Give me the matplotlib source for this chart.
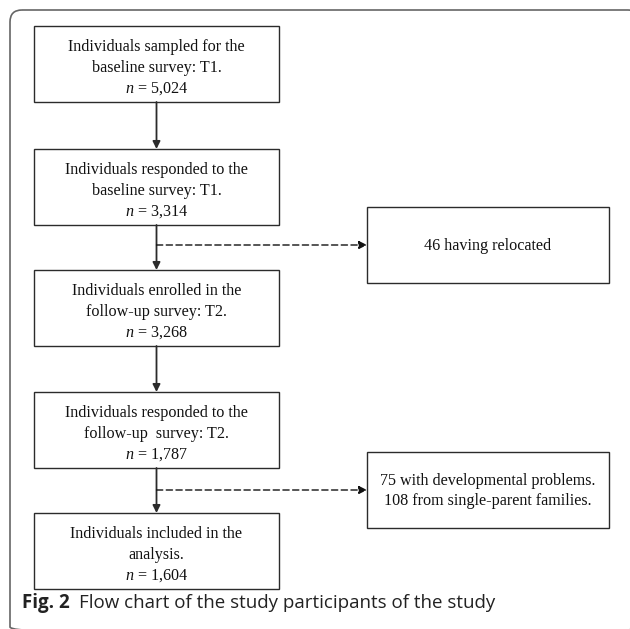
import matplotlib
matplotlib.use("Agg")
import matplotlib.pyplot as plt
from matplotlib.patches import Rectangle, FancyBboxPatch

plt.rcParams["mathtext.fontset"] = "custom"
plt.rcParams["mathtext.rm"] = "Liberation Serif"
plt.rcParams["mathtext.it"] = "Liberation Serif:italic"

# Flow chart content
main_labels = [
    "Individuals sampled for the\nbaseline survey: T1.",
    "Individuals responded to the\nbaseline survey: T1.",
    "Individuals enrolled in the\nfollow-up survey: T2.",
    "Individuals responded to the\nfollow-up  survey: T2.",
    "Individuals included in the\nanalysis.",
]
main_counts = ["5,024", "3,314", "3,268", "1,787", "1,604"]
side_labels = [
    "46 having relocated",
    "75 with developmental problems.\n108 from single-parent families.",
]
side_after = [1, 3]  # the exclusion branches off below these main boxes
caption_bold = "Fig. 2"
caption_text = "Flow chart of the study participants of the study"

# Layout (pixels)
W, H = 630, 629
main_x0, main_x1 = 34, 279
main_tops = [26, 149, 270, 392, 513]
box_h = 76
side_x0, side_x1 = 367, 609
side_tops = [207, 452]
side_h = 76
edge = "#2b2b2b"
serif = ["Liberation Serif", "DejaVu Serif"]
fs = 11.6

fig = plt.figure(figsize=(W / 100, H / 100), dpi=100)
ax = fig.add_axes([0, 0, 1, 1])
ax.set_xlim(0, W)
ax.set_ylim(H, 0)
ax.axis("off")

# outer rounded frame (right and bottom edges fall just outside the picture)
frame = FancyBboxPatch((10, 10), 630, 629, boxstyle="round,pad=0,rounding_size=12",
                       fill=False, edgecolor="#666666", linewidth=1.2)
ax.add_patch(frame)

cx = (main_x0 + main_x1) / 2

# main boxes
for top, label, count in zip(main_tops, main_labels, main_counts):
    ax.add_patch(Rectangle((main_x0, top), main_x1 - main_x0, box_h,
                           fill=False, edgecolor=edge, linewidth=1.0))
    ax.text(cx, top + box_h / 2 + 4, label + "\n$n$ = " + count,
            ha="center", va="center", fontsize=fs, family=serif,
            linespacing=1.42, color="#111111")

# solid arrows between main boxes
for i in range(len(main_tops) - 1):
    ax.annotate("", xy=(cx, main_tops[i + 1]), xytext=(cx, main_tops[i] + box_h),
                arrowprops=dict(arrowstyle="-|>", color=edge, lw=1.3,
                                mutation_scale=11, shrinkA=0, shrinkB=0))

# side boxes with dashed arrows
for top, label, i in zip(side_tops, side_labels, side_after):
    ax.add_patch(Rectangle((side_x0, top), side_x1 - side_x0, side_h,
                           fill=False, edgecolor=edge, linewidth=1.0))
    ymid = top + side_h / 2
    ax.text((side_x0 + side_x1) / 2, ymid + 1, label, ha="center", va="center",
            fontsize=fs, family=serif, linespacing=1.4, color="#111111")
    ax.annotate("", xy=(side_x0, ymid), xytext=(cx, ymid),
                arrowprops=dict(arrowstyle="-|>", color="#111111", lw=1.0,
                                linestyle=(0, (4.5, 2.5)),
                                mutation_scale=12, shrinkA=0, shrinkB=0))

# caption: bold label followed by the plain description
t = ax.text(22, 603, caption_bold, ha="left", va="center", fontsize=13.5,
            family="Open Sans", fontweight="bold", color="#222222")
fig.canvas.draw()
bb = t.get_window_extent()
x_after = ax.transData.inverted().transform((bb.x1, 0))[0] + 9
ax.text(x_after, 603, caption_text, ha="left", va="center", fontsize=13.5,
        family="Open Sans", color="#222222")

fig.savefig("out.png", dpi=100)
